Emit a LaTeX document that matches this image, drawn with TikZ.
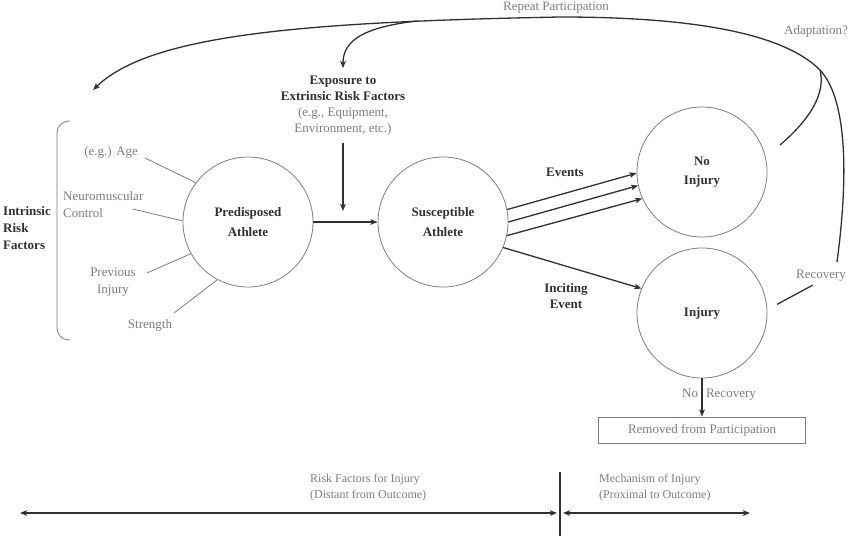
\documentclass[tikz,border=0pt]{standalone}
\usepackage{fontspec}
\setmainfont{Liberation Serif}
\usetikzlibrary{arrows.meta}
\definecolor{ink}{HTML}{303030}
\definecolor{soft}{HTML}{7C7C7C}
\begin{document}
\begin{tikzpicture}[
    x=1pt, y=-1pt,
    athlete/.style={circle, draw=soft, line width=0.8pt, minimum size=130pt,
        inner sep=0pt, align=center, text=ink,
        font=\fontsize{13}{19.5}\selectfont\bfseries},
    cue/.style={align=center, text=ink, inner sep=1pt,
        font=\fontsize{13}{16}\selectfont\bfseries},
    hint/.style={align=center, text=soft, inner sep=1pt,
        font=\fontsize{13}{17}\selectfont},
    note/.style={align=left, text=soft, inner sep=1pt,
        font=\fontsize{12}{16}\selectfont},
    tie/.style={draw=soft, line width=0.8pt},
    bond/.style={draw=ink, line width=1.3pt},
    flow/.style={bond, -{Stealth[length=7pt, width=5.5pt, inset=1.5pt]}},
    reach/.style={bond, {Stealth[length=7pt, width=5.5pt, inset=1.5pt]}-{Stealth[length=7pt, width=5.5pt, inset=1.5pt]}}
]
    \useasboundingbox (0,0) rectangle (850,540);
    \node[athlete] (pred) at (248,222) {Predisposed\\Athlete};
    \node[athlete] (susc) at (443,222) {Susceptible\\Athlete};
    \node[athlete] (noinj) at (702,172) {No\\Injury};
    \node[athlete] (inj) at (702,313) {Injury};
    \node[hint, draw=soft, line width=0.8pt, minimum width=207pt, minimum height=26pt] (removed) at (702,430) {Removed from Participation};
    \node[cue, align=left, anchor=west, font=\fontsize{13}{17}\selectfont\bfseries] (intr) at (2,228) {Intrinsic\\Risk\\Factors};
    \node[hint, anchor=east] (age) at (139,152) {(e.g.) Age};
    \node[hint, align=left, anchor=west] (neuro) at (62,205) {Neuromuscular\\Control};
    \node[hint] (prev) at (113,282) {Previous\\Injury};
    \node[hint] (stren) at (150,325) {Strength};
    \node[cue] (expo) at (343,106) {Exposure to\\Extrinsic Risk Factors\\\mdseries\color{soft}(e.g., Equipment,\\\mdseries\color{soft}Environment, etc.)};
    \node[cue] (events) at (565,172) {Events};
    \node[cue] (incite) at (566,296) {Inciting\\Event};
    \node[hint] (recov) at (821,276) {Recovery};
    \node[hint] (adapt) at (816,31) {Adaptation?};
    \node[hint] (repeat) at (556,8) {Repeat Participation};
    \node[note, anchor=west] (riskf) at (309,488) {Risk Factors for Injury\\(Distant from Outcome)};
    \node[note, anchor=west] (mech) at (598,488) {Mechanism of Injury\\(Proximal to Outcome)};
    \coordinate (expoend) at (343,211);
    \coordinate (recovtop) at (837,262);
    \coordinate (join) at (820,70);
    \coordinate (crest) at (560,17);
    \coordinate (intrtop) at (93,90);
    \coordinate (noinjout) at (780,145);
    \coordinate (fork) at (417,21);
    \coordinate (farl) at (20,513);
    \coordinate (farr) at (750,513);
    \coordinate (divl) at (557,513);
    \coordinate (divr) at (563,513);
    \coordinate (divtop) at (560,472);
    \coordinate (divbot) at (560,536);
    \draw[tie, rounded corners=12pt] (70,121) -- (57,121) -- (57,340) -- (70,340);
    \draw[tie] ([shift={(6,6)}]age.east) -- (pred.143);
    \draw[tie] ([shift={(-12,4)}]neuro.east) -- (pred.179);
    \draw[tie] ([shift={(10,-9)}]prev.east) -- (pred.209);
    \draw[tie] ([shift={(1,-5)}]stren.north east) -- (pred.242);
    \draw[flow] (pred) -- (susc);
    \draw[flow, shorten <=6pt] (expo) -- (expoend);
    \draw[flow] (susc.11) -- (noinj.181);
    \draw[flow] (susc.0) -- (noinj.192);
    \draw[flow] (susc.-12) -- (noinj.204);
    \draw[flow] (susc.-23) -- (inj.158);
    \draw[flow] (inj) -- (removed) node[hint, midway, xshift=17pt, yshift=3pt] (norec) {No\hspace{8pt}Recovery};
    \draw[bond, shorten <=11pt, shorten >=5pt] (inj.3) -- (recov.240);
    \draw[flow] (recovtop) .. controls (848,180) and (848,100) .. (join) .. controls (785,35) and (700,17) .. (crest) .. controls (300,22) and (150,35) .. (intrtop);
    \draw[bond] (noinjout) .. controls (815,115) and (825,90) .. (join);
    \draw[flow, shorten >=7pt] (fork) .. controls (365,27) and (343,40) .. (expo.north);
    \draw[reach] (farl) -- (divl);
    \draw[reach] (divr) -- (farr);
    \draw[ink, line width=2.4pt] (divtop) -- (divbot);
\end{tikzpicture}
\end{document}
